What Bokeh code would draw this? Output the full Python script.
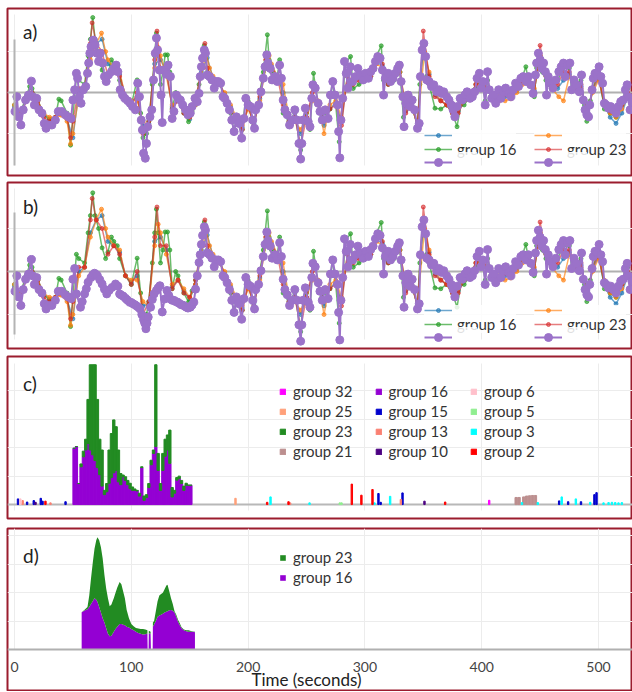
from bokeh.plotting import figure
from bokeh.models import (Range1d, LinearAxis, Grid, SingleIntervalTicker, Span, Label,
                          Legend, LegendItem, ColumnDataSource)
from bokeh.layouts import column
from bokeh.embed import file_html
from bokeh.resources import INLINE

FONT = "Lato"
BORDER = "#9b1c2e"
GRID = "#ececec"

# ---------------- data: panels a) and b) (time in s, normalised value) ----------------
purple_a = [
    (0.5,-0.46),(2,-0.1),(3.5,-0.59),(5.5,-0.79),(7.5,-0.42),(9.5,-0.18),(12,-0.06),(14.5,0.28),(15.5,-0.1),(17,-0.3),
    (19,-0.14),(21,-0.42),(23.5,-0.5),(25.5,-0.75),(27,-0.87),(29,-0.79),(32,-0.79),(35,-0.67),(37.5,-0.46),(40.5,-0.46),
    (43.5,-0.54),(46,-0.59),(48.5,-0.63),(50,-0.18),(51.5,0.07),(53,0.47),(54,0.35),(55.5,-0.1),(57,-0.26),(59,0.07),
    (61,0.15),(62.5,0.47),(63.5,0.72),(64.5,0.96),(65.5,1.12),(67.5,1.28),(69,1.16),(70.5,0.96),(72,0.76),(73.5,0.96),
    (75.5,0.72),(77,0.39),(78.5,0.27),(80.5,0.43),(83,0.51),(85,0.59),(87,0.67),(88.5,0.51),(90.5,0.07),(92.5,-0.06),
    (94.5,-0.14),(97,-0.2),(99,-0.26),(101,-0.34),(103.5,-0.42),(105.5,0.23),(107,-0.1),(108.5,-0.67),(109.5,-0.91),(110.5,-1.48),
    (112,-1.6),(113,-1.24),(114,-0.83),(116,-0.59),(117.5,-0.42),(119,0.31),(120.5,0.96),(121.5,1.33),(122.5,1.04),(124,0.55),
    (125.5,-0.06),(126.5,-0.73),(128,0.55),(130,0.45),(131.5,0.67),(133.5,0.39),(135,-0.63),(136.5,-0.46),(138.5,-0.06),(140,-0.14),
    (142,-0.18),(144,-0.3),(146.5,-0.42),(148.5,-0.54),(150.5,-0.5),(152,-0.34),(154.5,-0.14),(156.5,-0.22),(158,-0.02),(159,0.39),
    (160,0.63),(161,0.84),(162.5,1.04),(163.5,0.96),(165,0.43),(167,0.39),(169,0.31),(171,0.11),(172.5,0.27),(174.5,0.27),
    (176.5,0.23),(178.5,-0.1),(180,-0.14),(182,-0.26),(184,-0.42),(186,-0.67),(188,-0.95),(190,-0.59),(192,-0.75),(194.5,-1.11),
    (196.5,-0.63),(198,-0.14),(200,-0.3),(202,-0.34),(204,-0.67),(205.5,-0.87),(206.5,-0.42),(209,-0.3),(211,0.02),(213,0.35),
    (214.5,0.63),(216,0.92),(217,0.72),(219,0.59),(220.5,0.31),(223,0.39),(225,0.27),(227,0.67),(228.5,0.35),(230,-0.18),
    (231.5,-0.42),(233.5,-0.54),(235.5,-0.79),(238,-0.67),(240,-0.42),(242,-0.67),(243.5,-1.24),(245,-1.62),(246,-1.24),(247,-0.67),
    (249,-0.38),(251.5,-0.71),(253,-0.83),(254.5,-0.14),(255.5,0.19),(257.5,0.11),(260,-0.26),(261.5,-0.46),(263.5,-0.67),(266,-0.42),
    (268.5,-0.63),(270.5,-0.06),(272.5,0.27),(274.5,-0.06),(276.5,-0.3),(277.5,-0.95),(278.5,-1.59),(279.5,-0.67),(281,-0.14),(282.5,0.76),
    (284,0.47),(285.5,0.11),(287.5,0.63),(289.5,0.27),(292,0.39),(294,0.59),(296,0.43),(298.5,0.31),(300.5,0.47),(303,0.35),
    (305,0.51),(307,0.59),(309,0.76),(311,0.88),(313,0.84),(315,0.55),(316,-0.06),(317.5,0.35),(320,0.47),(322,0.27),
    (324,0.35),(326,0.47),(328,0.59),(329.5,0.67),(331,0.27),(332.5,-0.1),(333.5,-0.83),(335,-0.26),(337,-0.06),(338.5,-0.34),
    (340.5,-0.18),(342.5,-0.42),(345,-0.87),(346.5,-0.75),(347.5,0.39),(349,1.04),(350.5,1.2),(352,0.88),(353,0.31),(355,0.27),
    (357,0.15),(359,0.19),(361.5,0.02),(363.5,0.07),(365.5,-0.02),(367.5,0.02),(370,-0.1),(372,-0.18),(374,-0.3),(375.5,-0.42),
    (377,-0.59),(379,-0.34),(381.5,-0.14),(383.5,-0.18),(385.5,-0.06),(387.5,0.02),(390,-0.14),(392,-0.1),(394,0.02),(396,0.35),
    (398,0.47),(399.5,0.11),(401,0.27),(403,-0.3),(405,0.51),(406.5,0.07),(408.5,-0.14),(410,-0.06),(412,-0.26),(414.5,0.07),
    (416.5,-0.14),(418.5,0.02),(420.5,0.11),(423,-0.02),(425,-0.1),(427,0.07),(429,0.23),(431.5,0.15),(433.5,0.35),(435.5,0.39),
    (438,0.27),(440,0.39),(442,0.19),(444,-0.02),(446,0.43),(447,0.72),(448.5,0.96),(450,0.8),(451.5,0.59),(453,0.72),
    (454.5,0.51),(455.5,-0.06),(457,0.39),(459,0.23),(461,0.11),(463.5,0.31),(466,0.51),(468,0.63),(470,0.72),(471.5,0.39),
    (473.5,0.67),(475.5,0.72),(477,0.07),(479,0.31),(481,0.19),(483.5,0.02),(485.5,0.43),(487,-0.18),(488.5,-0.42),(490,-0.54),
    (491.5,-0.59),(492.5,-0.3),(494.5,0.07),(495.5,0.35),(497,0.47),(499,0.43),(500.5,0.63),(502,0.39),(503.5,0.23),(505,-0.26),
    (506.5,-0.3),(508.5,-0.38),(510.5,-0.34),(512.5,-0.42),(515,-0.5),(517,-0.34),(519,-0.22),(521,-0.18),(523,0.07),(524.5,0.19),
    (525.5,-0.1),(527,-0.42),(528.5,-0.22),
]

# purple trace of panel b) inside the highlighted interval
purple_b_mid = [
    (53,-0.52),(56.5,-0.83),(58,-0.7),(60,-0.52),(61.5,-0.4),(63,-0.25),(65.5,-0.14),(67,-0.08),(68.5,-0.04),(70,-0.07),
    (71,-0.1),(73,-0.19),(75,-0.29),(77,-0.41),(79,-0.52),(81,-0.44),(83.5,-0.37),(86.5,-0.29),(88.5,-0.34),(90,-0.52),
    (91.5,-0.55),(93,-0.57),(95,-0.62),(96.5,-0.66),(98.5,-0.71),(100,-0.72),(101.5,-0.75),(103,-0.77),(104.5,-0.8),(106,-0.83),
    (107.5,-0.87),(109,-1.0),(110.5,-1.12),(111.5,-1.2),(112.5,-1.33),(113.5,-1.2),(114.5,-1.06),(116.5,-0.83),(118,-0.65),(119.5,-0.52),
    (121.5,-0.44),(123,-0.38),(124.5,-0.33),(126.5,-0.94),(128.5,-0.64),(130.5,-0.44),(132,-0.55),(133.5,-0.64),(135,-0.67),(136.5,-0.67),
    (138,-0.7),(139.5,-0.71),(141,-0.74),(142.5,-0.77),(144,-0.78),(145.5,-0.8),(147,-0.83),(148.5,-0.85),(150.5,-0.83),(152,-0.78),
    (153.5,-0.71),(155,-0.41),(156.5,-0.1),(158,0.21),
]

green_pts = [
    (0,-0.3),(5,-0.5),(10,-0.1),(13,0.15),(15,0.1),(20,-0.2),(25,-0.55),(30,-0.65),(35,-0.6),(38,-0.16),
    (40,-0.2),(45,-0.5),(48,-1.28),(50,-0.6),(53,0.4),(55,0.3),(60,0.2),(63,0.9),(65,1.3),(67,1.83),
    (69,1.3),(72,1.0),(75,0.55),(78,0.3),(80,0.45),(83,0.8),(85,0.7),(88,0.6),(90,0.3),(95,-0.1),
    (100,-0.3),(105,0.31),(108,-0.5),(110,-1.1),(113,-1.0),(115,-0.7),(118,0.2),(120,0.9),(121.5,1.45),(123,0.9),
    (125,0.2),(127,0.5),(129,0.92),(131,0.92),(133,0.5),(135,-0.4),(138,0.0),(140,-0.1),(145,-0.5),(149,-0.71),
    (152,-0.45),(155,-0.2),(158,0.2),(160,0.6),(162.5,1.15),(165,0.5),(170,0.3),(175,0.3),(180,-0.1),(185,-0.5),
    (188,-0.95),(190,-0.7),(195,-0.9),(198,-0.1),(200,-0.2),(205,-0.8),(210,0.0),(213,0.5),(216.5,1.41),(218,0.8),
    (220,0.5),(225,0.4),(227,0.8),(230,-0.5),(235,-0.7),(240,-0.5),(245,-1.4),(247,-0.7),(250,-0.5),(253,-0.9),
    (256,0.47),(260,-0.3),(263,-0.6),(265,-0.5),(270,-0.4),(272,0.3),(275,-0.3),(278,-1.2),(280,-0.7),(283,0.7),
    (287.7,0.88),(290,0.1),(295,0.2),(300,0.3),(305,0.4),(310,0.9),(314,1.14),(316,0.3),(320,0.2),(325,0.3),
    (330,0.5),(333,-0.6),(335,-0.3),(340,-0.3),(345,-0.8),(347,0.2),(350,1.2),(353,0.4),(355,0.2),(360,-0.38),
    (365,-0.4),(370,-0.3),(375,-0.5),(378.9,-0.83),(382,-0.3),(385,-0.3),(390,-0.1),(395,0.1),(400,0.3),(403,-0.2),
    (405,0.3),(410,-0.2),(415,-0.1),(420,0.0),(425,-0.1),(430,0.1),(435,0.4),(437.8,0.63),(440,0.3),(445,-0.1),
    (447,0.6),(449.5,0.95),(452,0.5),(455,0.3),(460,0.1),(465,0.3),(470,0.6),(475,0.6),(477,0.1),(480,0.1),
    (485,0.3),(488,-0.3),(490,-0.7),(493,-0.2),(495,0.1),(500,0.5),(505,-0.4),(510,-0.5),(515,-0.6),(520,-0.3),
    (523,0.1),(525,0.1),(528,-0.3),
]

orange_pts = [
    (0,-0.3),(5,-0.5),(10,-0.2),(15,-0.1),(20,-0.2),(25,-0.5),(30,-0.6),(35,-0.6),(40,-0.55),(45,-0.7),
    (48,-1.25),(50,-1.0),(55,-0.1),(60,0.1),(65,0.8),(70,1.2),(74.5,1.45),(78,1.0),(80,0.8),(85,0.6),
    (90,0.5),(95,-0.1),(100,-0.2),(105,-0.2),(110,-0.7),(115,-0.8),(120,0.6),(123,1.1),(125,0.9),(130,0.4),
    (135,-0.3),(140,-0.2),(145,-0.4),(150,-0.6),(155,-0.3),(160,0.4),(164,1.0),(167,0.6),(170,0.4),(175,0.2),
    (180,0.0),(185,-0.3),(190,-0.6),(195,-0.8),(200,-0.4),(205,-0.7),(210,-0.2),(215,0.6),(218,0.9),(220,0.7),
    (225,0.4),(230,0.2),(235,-0.6),(240,-0.7),(245,-0.9),(250,-0.6),(255,-0.2),(260,-0.2),(265,-1.0),(270,-0.3),
    (275,-0.2),(280,-0.6),(285,0.4),(290,0.3),(295,0.4),(300,0.4),(305,0.4),(310,0.7),(315,0.6),(320,0.3),
    (325,0.4),(330,0.5),(335,-0.4),(340,-0.3),(345,-0.8),(351,1.0),(355,0.5),(360,0.0),(365,-0.2),(370,-0.3),
    (375,-0.5),(380,-0.4),(385,-0.2),(390,-0.1),(395,0.2),(400,0.2),(405,0.1),(410,-0.1),(415,-0.2),(420,-0.2),
    (425,-0.15),(430,0.0),(435,0.2),(440,0.3),(445,0.1),(450,0.8),(455,0.5),(460,0.1),(466,-0.1),(470,-0.2),
    (475,0.4),(480,0.2),(485,0.1),(490,-0.5),(495,0.0),(500,0.3),(505,-0.2),(510,-0.5),(515,-0.6),(520,-0.4),
    (525,-0.1),(528,-0.3),
]

red_pts = [
    (0,-0.4),(5,-0.6),(10,-0.2),(15,0.0),(20,-0.2),(25,-0.6),(30,-0.7),(35,-0.6),(40,-0.5),(45,-0.6),
    (48,-1.1),(50,-0.7),(55,0.1),(60,0.1),(65,1.2),(66.5,1.7),(70,1.2),(75,1.0),(80,0.4),(85,0.6),
    (90,0.4),(95,-0.1),(100,-0.3),(105,0.0),(110,-1.0),(115,-0.7),(120,0.8),(122,1.5),(125,0.6),(130,0.6),
    (135,-0.4),(140,-0.2),(145,-0.5),(150,-0.6),(155,-0.2),(160,0.6),(163,1.2),(165,0.6),(170,0.3),(175,0.3),
    (180,-0.1),(185,-0.4),(190,-0.7),(195,-0.9),(200,-0.3),(205,-0.8),(210,-0.1),(215,0.8),(220,0.6),(225,0.4),
    (230,-0.3),(235,-0.7),(240,-0.6),(245,-1.3),(250,-0.6),(255,0.0),(260,-0.3),(265,-0.7),(270,-0.4),(275,-0.3),
    (280,-0.8),(285,0.4),(290,0.2),(295,0.3),(300,0.35),(305,0.4),(310,0.8),(315,0.7),(320,0.2),(325,0.35),
    (330,0.6),(335,-0.5),(340,-0.3),(345,-0.8),(350,1.5),(355,0.4),(360,-0.1),(365,-0.2),(370,-0.3),(375,-0.5),
    (380,-0.5),(385,-0.2),(390,-0.1),(395,0.2),(400,0.3),(405,0.1),(410,-0.1),(415,-0.1),(420,-0.05),(425,-0.1),
    (430,0.1),(435,0.3),(440,0.3),(445,0.0),(450,1.15),(455,0.4),(460,0.1),(465,0.2),(470,0.5),(475,0.5),
    (480,0.1),(485,0.2),(490,-0.6),(495,0.1),(500,0.4),(505,-0.3),(510,-0.45),(515,-0.55),(520,-0.3),(525,0.0),
    (528,-0.3),
]

blue_pts = [
    (0,-0.35),(5,-0.5),(10,-0.15),(15,-0.05),(20,-0.2),(25,-0.5),(30,-0.65),(35,-0.6),(40,-0.5),(45,-0.65),
    (50,-1.1),(55,0.0),(60,0.1),(65,0.9),(70,1.2),(75,1.3),(80,0.7),(85,0.6),(90,0.45),(95,-0.1),
    (100,-0.25),(105,-0.1),(110,-0.8),(115,-0.75),(120,0.7),(125,0.8),(130,0.5),(135,-0.35),(140,-0.2),(145,-0.45),
    (150,-0.65),(155,-0.3),(160,0.5),(165,0.85),(170,0.35),(175,0.25),(180,-0.05),(185,-0.35),(190,-0.65),(195,-0.85),
    (200,-0.35),(205,-0.75),(210,-0.15),(215,0.7),(220,0.65),(225,0.4),(230,0.0),(235,-0.65),(240,-0.65),(245,-1.0),
    (250,-0.6),(255,-0.1),(260,-0.25),(265,-0.8),(270,-0.4),(275,-0.25),(280,-0.7),(285,0.4),(290,0.25),(295,0.35),
    (300,0.4),(305,0.4),(310,0.75),(315,0.65),(320,0.25),(325,0.4),(330,0.5),(335,-0.45),(340,-0.3),(345,-0.8),
    (350,1.1),(355,0.45),(360,-0.05),(365,-0.2),(370,-0.3),(375,-0.5),(380,-0.45),(385,-0.2),(390,-0.1),(395,0.2),
    (400,0.25),(405,0.1),(410,-0.1),(415,-0.15),(420,-0.1),(425,-0.1),(430,0.05),(435,0.25),(440,0.3),(445,0.05),
    (450,0.9),(455,0.45),(460,0.1),(465,0.1),(470,0.3),(475,0.45),(480,0.15),(485,0.15),(490,-0.55),(495,0.05),
    (500,0.35),(505,-0.3),(510,-0.6),(515,-0.75),(520,-0.5),(525,-0.1),
]

# ---------------- data: panel c) (stacked bars) ----------------
c_t = [51, 53, 55, 57, 59, 61, 63, 65, 67, 69, 71, 73, 75, 77, 79, 81, 83, 85, 87, 89,
       91, 93, 95, 97, 99, 101, 103, 105, 107, 109, 111, 113, 115, 117, 119, 121, 123, 125, 127, 129,
       131, 133, 135, 137, 139, 141, 143, 145, 147, 149, 151]
c_g16 = [1.98, 2.04, 0.74, 1.33, 1.68, 1.92, 2.15, 1.92, 1.75, 1.55, 1.3, 1.05, 0.65, 0.35, 0.45, 0.75, 0.95, 1.12, 1.2, 0.8,
         0.7, 0.98, 0.85, 0.7, 0.56, 0.5, 0.5, 0.48, 0.3, 1.3, 0.15, 0.25, 0.6, 1.4, 1.8, 2.04, 1.2, 0.5, 1.2, 1.7,
         1.92, 1.45, 0.27, 0.4, 0.86, 0.92, 0.74, 0.5, 0.68, 0.68, 0.68]
c_g23 = [0, 0, 0, 0.1, 0.2, 0.38, 1.55, 3.0, 3.17, 3.37, 2.4, 1.25, 1.27, 0.15, 0.29, 1.17, 1.55, 1.86, 1.54, 1.12,
         0.39, 0.06, 0.13, 0.15, 0.19, 0.12, 0.05, 0.02, 0.1, 0.03, 0.15, 0.1, 0.14, 0.16, 0.12, 2.88, 0.6, 0.24, 0.6, 0.6,
         0.53, 1.17, 0.33, 0.1, 0.09, 0.08, 0.11, 0.15, 0.07, 0, 0]

# sparse bars of the other groups: (group, time, height)
spots = [
    (15, 3.0, 0.2), (6, 5.0, 0.2), (13, 7.0, 0.14), (15, 10.8, 0.09), (15, 16.5, 0.14), (10, 18.0, 0.08),
    (15, 22.5, 0.22), (15, 24.0, 0.12), (2, 26.5, 0.12), (13, 30.8, 0.06), (15, 43.7, 0.1),
    (25, 189.2, 0.22), (2, 216.3, 0.08), (3, 219.2, 0.27), (2, 234.6, 0.1), (13, 236.0, 0.06), (3, 252.6, 0.06),
    (5, 278.5, 0.06), (5, 280.0, 0.06), (2, 288.8, 0.72), (2, 297.0, 0.33), (2, 306.5, 0.53), (3, 308.2, 0.06),
    (15, 311.6, 0.39), (15, 313.5, 0.08), (3, 321.6, 0.29), (13, 330.8, 0.18), (15, 332.2, 0.41), (10, 351.0, 0.12),
    (2, 368.7, 0.09), (32, 406.4, 0.15), (21, 429.5, 0.25), (21, 432.0, 0.25), (21, 436.0, 0.27), (21, 438.5, 0.3),
    (21, 441.0, 0.31), (21, 443.5, 0.32), (21, 446.0, 0.32), (3, 434.5, 0.07), (3, 448.0, 0.07), (15, 466.3, 0.13),
    (3, 468.5, 0.27), (15, 474.0, 0.1), (3, 480.6, 0.2), (15, 485.0, 0.1), (3, 492.9, 0.08), (15, 496.5, 0.35),
    (15, 498.3, 0.42), (3, 504.3, 0.06), (3, 508.6, 0.07), (3, 511.5, 0.08), (3, 514.3, 0.07), (3, 517.1, 0.06),
    (3, 520.0, 0.07),
]

group_colors = {32: "#ff00ff", 25: "#ffa07a", 23: "#228b22", 21: "#bc8f8f",
                16: "#9400d3", 15: "#0000cd", 13: "#fa8072", 10: "#4b0082",
                6: "#ffc0cb", 5: "#90ee90", 3: "#00ffff", 2: "#ff0000"}
legend_cols = [[32, 25, 23, 21], [16, 15, 13, 10], [6, 5, 3, 2]]

# ---------------- data: panel d) (stacked areas) ----------------
d_t = [57.5, 60, 62.5, 64, 65.5, 67, 68.5, 70, 71, 72.5, 74, 75.5, 77, 78.5, 80, 81.5, 83, 85, 86.5, 88,
       90, 91.5, 93, 94.5, 96, 98, 100, 102, 104, 106, 108, 110, 112, 113.8, 114.0, 114.8, 115.0, 116.5, 116.8, 118.3,
       118.5, 119.5, 121, 122.5, 124, 125.5, 127, 128.5, 130, 131, 132.5, 134, 135.5, 137, 138.5, 140, 141.5, 143, 145, 147,
       149, 151, 153, 154.5]
d_g16 = [1.31, 1.37, 1.42, 1.5, 1.6, 1.7, 1.8, 1.75, 1.68, 1.5, 1.3, 1.1, 0.95, 0.75, 0.55, 0.47, 0.48, 0.62, 0.72, 0.8,
         0.9, 0.9, 0.87, 0.85, 0.8, 0.77, 0.72, 0.68, 0.62, 0.58, 0.55, 0.53, 0.54, 0.56, 0, 0, 0.56, 0.56, 0, 0,
         0.8, 0.88, 1.0, 1.15, 1.2, 1.22, 1.26, 1.3, 1.33, 1.35, 1.38, 1.39, 1.36, 1.3, 1.15, 0.98, 0.85, 0.75, 0.68, 0.64,
         0.62, 0.62, 0.62, 0.61]
d_g23 = [0, 0.03, 0.08, 0.4, 0.9, 1.35, 1.75, 2.1, 2.27, 2.35, 2.3, 2.1, 1.67, 1.4, 1.25, 1.05, 1.1, 1.18, 1.28, 1.38,
         1.48, 1.4, 1.18, 0.95, 0.6, 0.33, 0.18, 0.14, 0.14, 0.16, 0.17, 0.19, 0.16, 0.12, 0, 0, 0.1, 0.06, 0, 0,
         0.15, 0.12, 0.35, 0.55, 0.7, 0.73, 0.74, 0.82, 0.92, 0.93, 0.67, 0.41, 0.24, 0.05, 0.07, 0.07, 0.07, 0.03, 0.02, 0.04,
         0.06, 0.03, 0.01, 0.01]

assert len(c_t) == len(c_g16) == len(c_g23)
assert len(d_t) == len(d_g16) == len(d_g23)

# ---------------- helpers ----------------
X_RANGE = (-5.99, 529.1)


def make_fig(h, y0, y1, top, bottom):
    return figure(width=632, height=h, x_range=Range1d(*X_RANGE), y_range=Range1d(y0, y1),
                  output_backend="svg", toolbar_location=None, x_axis_type=None, y_axis_type=None,
                  min_border_left=7, min_border_right=0, min_border_top=top, min_border_bottom=bottom,
                  outline_line_color=BORDER, outline_line_width=2, outline_line_alpha=1.0,
                  background_fill_color="white", border_fill_color="white")


def add_grids(p, ybounds, xcross):
    p.add_layout(Grid(dimension=0, ticker=SingleIntervalTicker(interval=100), grid_line_color=GRID,
                      grid_line_width=1, cross_bounds=xcross))
    p.add_layout(Grid(dimension=1, ticker=SingleIntervalTicker(interval=1), bounds=ybounds,
                      grid_line_color=GRID, grid_line_width=1))


def panel_label(p, text, y):
    p.add_layout(Label(x=7.3, y=y, text=text, text_font=FONT, text_font_size="19px",
                       text_baseline="top", text_color="#222"))


def series(p, pts, color, size, lw, alpha):
    src = ColumnDataSource(dict(t=[q[0] for q in pts], v=[q[1] for q in pts]))
    ln = p.line("t", "v", source=src, line_color=color, line_width=lw, line_alpha=alpha)
    sc = p.scatter("t", "v", source=src, size=size, fill_color=color, line_color=color,
                   fill_alpha=alpha, line_alpha=alpha)
    return [ln, sc]


def legend(items, loc, gh, gw, spacing, standoff, bg_alpha=0.85):
    return Legend(items=items, location=loc, orientation="vertical", glyph_height=gh, glyph_width=gw,
                  spacing=spacing, label_standoff=standoff, padding=0, margin=0, label_height=10,
                  border_line_color=None, background_fill_color="white", background_fill_alpha=bg_alpha,
                  label_text_font=FONT, label_text_font_size="15px", label_text_color="#333")


def line_panel(h, top, bottom, y0, y1, zero_axis_bounds, vgrid_cross, purple_pts, label, label_y, leg_vy, leg_vy2):
    p = make_fig(h, y0, y1, top, bottom)
    add_grids(p, (-1.5, 1.5), vgrid_cross)
    p.add_layout(Span(location=0, dimension="width", line_color="#b0b0b0", line_width=2, level="underlay"))
    ax = LinearAxis(fixed_location=0, bounds=zero_axis_bounds, axis_line_color="#b4b4b4", axis_line_width=2,
                    major_tick_line_color=None, minor_tick_line_color=None,
                    major_label_text_font_size="0px", major_label_text_alpha=0)
    p.add_layout(ax, "left")
    rb = series(p, blue_pts, "#1f77b4", 4, 1.5, 0.65)
    rg = series(p, green_pts, "#2ca02c", 4, 1.5, 0.7)
    ro = series(p, orange_pts, "#ff7f0e", 4, 1.5, 0.65)
    rr = series(p, red_pts, "#d62728", 4, 1.5, 0.6)
    rp = series(p, purple_pts, "#9b72c9", 8, 2, 1.0)
    panel_label(p, label, label_y)
    p.add_layout(legend([LegendItem(label=" ", renderers=rb), LegendItem(label="group 16", renderers=rg)],
                        (417, leg_vy), 10, 28, -6, 5))
    p.add_layout(legend([LegendItem(label=" ", renderers=ro), LegendItem(label="group 23", renderers=rr)],
                        (527, leg_vy), 10, 28, -6, 5))
    p.add_layout(legend([LegendItem(label=" ", renderers=rp)], (417, leg_vy2), 20, 28, 0, 5))
    p.add_layout(legend([LegendItem(label=" ", renderers=rp)], (527, leg_vy2), 20, 28, 0, 5))
    return p


# ---------------- panel a (box 8..175) ----------------
pa = line_panel(178, 8, 3, -2.02, 2.05, (-1.78, 1.29), (-1.78, 1.9), purple_a, "a)", 1.78, 17, 3)

# ---------------- panel b (box 182..348) ----------------
purple_b = [q for q in purple_a if q[0] < 52] + purple_b_mid + [q for q in purple_a if q[0] > 158.5]
pb = line_panel(174, 4, 4, -1.79, 2.07, (-1.47, 1.37), (-1.58, 1.93), purple_b, "b)", 1.77, 15, 1)

# ---------------- panel c (box 356..518) ----------------
pc = make_fig(171, -0.49, 5.21, 4, 5)
add_grids(pc, (0.5, 4.5), (-0.21, 4.96))
pc.add_layout(Span(location=0, dimension="width", line_color="#b8b8b8", line_width=2, level="underlay"))
src_c = ColumnDataSource(dict(t=c_t, g16=c_g16, g23=c_g23))
stack = pc.vbar_stack(["g16", "g23"], x="t", width=2.0, color=[group_colors[16], group_colors[23]],
                      source=src_c)
group_renderers = {16: stack[0], 23: stack[1]}
for g in group_colors:
    if g in (16, 23):
        continue
    ts = [s[1] for s in spots if s[0] == g]
    hs = [s[2] for s in spots if s[0] == g]
    w = 2.0 if g == 21 else 1.2
    group_renderers[g] = pc.vbar(x=ts, top=hs, width=w, color=group_colors[g])
panel_label(pc, "c)", 4.68)
for i, col in enumerate(legend_cols):
    items = [LegendItem(label="group %d" % g, renderers=[group_renderers[g]]) for g in col]
    pc.add_layout(legend(items, (272 + 95.5 * i, 58), 7, 7, 2, 7, bg_alpha=0.0))

# ---------------- panel d (box 528..) ----------------
pd_ = make_fig(168, -1.48, 4.26, 5, 0)
add_grids(pd_, (0.5, 4.5), (0, 4.26))
src_d = ColumnDataSource(dict(t=d_t, g16=d_g16, g23=d_g23))
areas = pd_.varea_stack(["g16", "g23"], x="t", color=[group_colors[16], group_colors[23]], source=src_d)
xax = LinearAxis(fixed_location=0, ticker=SingleIntervalTicker(interval=100),
                 axis_line_color="#b0b0b0", axis_line_width=2,
                 major_tick_line_color=None, minor_tick_line_color=None,
                 major_label_text_font=FONT, major_label_text_font_size="14px",
                 major_label_text_color="#444", major_label_standoff=7)
pd_.add_layout(xax, "below")
pd_.add_layout(Label(x=250, y=-1.06, text="Time (seconds)", text_font=FONT, text_font_size="17px",
                     text_align="center", text_baseline="middle", text_color="#222"))
panel_label(pd_, "d)", 3.73)
pd_.add_layout(legend([LegendItem(label="group 23", renderers=[areas[1]]),
                       LegendItem(label="group 16", renderers=[areas[0]])],
                      (272, 105), 7, 7, 2, 7, bg_alpha=0.0))

layout = column(pa, pb, pc, pd_, spacing=0)
open("out.html", "w").write(file_html(layout, INLINE))
